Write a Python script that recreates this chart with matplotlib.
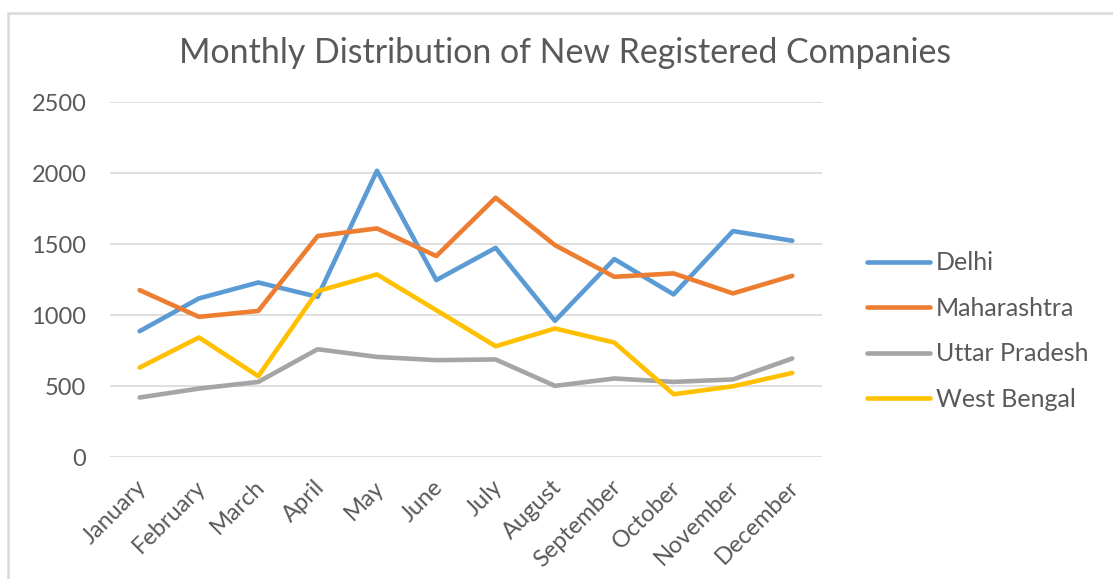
import matplotlib.pyplot as plt
import matplotlib.transforms as mtransforms
from matplotlib.patches import Rectangle

months = ["January", "February", "March", "April", "May", "June", "July",
          "August", "September", "October", "November", "December"]
delhi = [886, 1117, 1229, 1128, 2016, 1246, 1473, 959, 1394, 1145, 1591, 1523]
maharashtra = [1175, 987, 1029, 1556, 1610, 1415, 1826, 1492, 1269, 1293, 1152, 1276]
uttar_pradesh = [419, 482, 529, 759, 705, 682, 687, 501, 553, 529, 546, 694]
west_bengal = [630, 842, 569, 1168, 1286, 1034, 780, 905, 806, 442, 498, 592]

series = [("Delhi", delhi, "#5B9BD5"),
          ("Maharashtra", maharashtra, "#ED7D31"),
          ("Uttar Pradesh", uttar_pradesh, "#A5A5A5"),
          ("West Bengal", west_bengal, "#FFC000")]

plt.rcParams["font.family"] = ["Lato", "DejaVu Sans"]
txt = "#595959"

fig = plt.figure(figsize=(11.13, 5.79), dpi=100)
ax = fig.add_axes([0.0988, 0.2107, 0.6397, 0.6131])

x = range(len(months))
for name, vals, col in series:
    ax.plot(x, vals, color=col, lw=3.3, label=name, solid_joinstyle="round",
            solid_capstyle="round")

ax.set_xlim(-0.5, 11.5)
ax.set_ylim(0, 2500)
ax.set_yticks(range(0, 2501, 500))
ax.grid(axis="y", color="#D9D9D9", lw=1.2)
ax.set_axisbelow(True)
for s in ax.spines.values():
    s.set_visible(False)
ax.tick_params(length=0, colors=txt, labelsize=17)
ax.tick_params(axis="y", pad=17)
ax.tick_params(axis="x", pad=14)
ax.set_xticks(list(x))
ax.set_xticklabels(months, rotation=45, ha="right", rotation_mode="anchor")
# nudge month labels a little to the left
shift = mtransforms.ScaledTranslation(-3 / 72, 0, fig.dpi_scale_trans)
for lab in ax.get_xticklabels():
    lab.set_transform(lab.get_transform() + shift)

ax.legend(loc="center left", bbox_to_anchor=(867 / 1113, 1 - 331 / 579),
          bbox_transform=fig.transFigure, frameon=False, borderpad=0,
          borderaxespad=0, fontsize=18, labelcolor=txt, handlelength=2.5,
          handletextpad=0.25, labelspacing=0.9)

fig.text(0.5077, 0.909, "Monthly Distribution of New Registered Companies",
         ha="center", va="center", fontsize=24.4, color=txt)

fig.patches.append(Rectangle((8 / 1113, -0.05), 1.05, 1 - 13 / 579 + 0.05,
                             transform=fig.transFigure, fill=False,
                             edgecolor="#D9D9D9", lw=1.8))

fig.savefig("out.png", dpi=100)
